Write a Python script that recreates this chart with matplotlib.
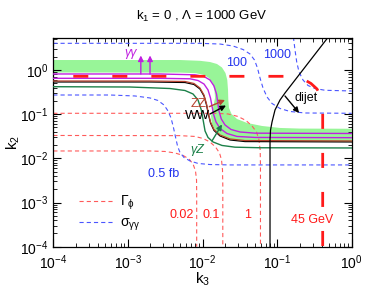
import numpy as np
import matplotlib
matplotlib.use("Agg")
import matplotlib.pyplot as plt

plt.rcParams["font.family"] = ["Liberation Sans", "DejaVu Sans"]
plt.rcParams["mathtext.fontset"] = "custom"
plt.rcParams["mathtext.rm"] = "Liberation Sans"
plt.rcParams["mathtext.it"] = "Liberation Sans:italic"
plt.rcParams["mathtext.default"] = "regular"
plt.rcParams["lines.scale_dashes"] = False

# ── curves as log10(k3), log10(k2) ───────────────────────────────────────────
band_out_x = [-4, -2.302, -2.034, -1.900, -1.806, -1.739, -1.692, -1.668, -1.658,
              -1.654, -1.645, -1.611, -1.538, -1.403, -1.202, -0.961, -0.693, 0]
band_out_y = [0.226, 0.226, 0.208, 0.181, 0.136, 0.057, -0.068, -0.226, -0.452,
              -0.679, -0.860, -0.995, -1.109, -1.199, -1.267, -1.312, -1.326, -1.330]
band_in_x = [-4, -2.302, -2.087, -1.980, -1.913, -1.866, -1.839, -1.832, -1.859,
             -1.886, -1.873, -1.832, -1.752, -1.631, -1.430, 0]
band_in_y = [-0.057, -0.059, -0.072, -0.113, -0.181, -0.294, -0.452, -0.633, -0.860,
             -1.041, -1.222, -1.357, -1.482, -1.572, -1.618, -1.629]

aa1_x = [-4, -2.570, -2.101, -1.980, -1.900, -1.846, -1.812, -1.795, -1.779,
         -1.748, -1.698, -1.618, -1.497, -1.296, 0]
aa1_y = [-0.090, -0.090, -0.109, -0.147, -0.226, -0.362, -0.543, -0.747, -0.928,
         -1.109, -1.244, -1.346, -1.403, -1.430, -1.437]
aa2_x = [-4, -2.570, -2.168, -2.060, -1.980, -1.926, -1.893, -1.873, -1.853,
         -1.819, -1.765, -1.672, -1.538, -1.296, 0]
aa2_y = [-0.188, -0.188, -0.199, -0.238, -0.317, -0.452, -0.633, -0.814, -0.995,
         -1.176, -1.324, -1.437, -1.504, -1.527, -1.532]

vv_x = [-4, -2.704, -2.235, -2.114, -2.034, -1.980, -1.946, -1.922, -1.893,
        -1.846, -1.765, -1.631, -1.430, 0]
zz_y = [-0.249, -0.249, -0.260, -0.305, -0.407, -0.566, -0.769, -0.973, -1.176,
        -1.346, -1.471, -1.561, -1.597, -1.606]
ww_y = [-0.271, -0.271, -0.283, -0.328, -0.430, -0.588, -0.792, -0.995, -1.199,
        -1.369, -1.493, -1.584, -1.620, -1.629]

az_x = [-4, -2.972, -2.436, -2.235, -2.127, -2.060, -2.016, -1.987, -1.966,
        -1.926, -1.859, -1.739, -1.564, -1.229, 0]
az_y = [-0.378, -0.385, -0.419, -0.464, -0.543, -0.679, -0.905, -1.176, -1.380,
        -1.527, -1.629, -1.708, -1.747, -1.760, -1.765]

mz_x = [-4, -0.894, -0.747, -0.639, -0.546, -0.465, -0.418, -0.394, -0.389, -0.389]
mz_y = [-0.143, -0.143, -0.165, -0.215, -0.305, -0.430, -0.588, -0.769, -0.950, -4]

dijet_x = [-1.095, -1.095, -1.088, -1.068, -1.028, -0.961, -0.894, -0.324]
dijet_y = [-4, -1.584, -1.357, -1.176, -0.905, -0.679, -0.520, 0.724]

# total width contours (GeV)
w002_x = [-4, -2.704, -2.503, -2.369, -2.261, -2.181, -2.127, -2.094, -2.080, -2.078, -2.078]
w002_y = [-1.833, -1.833, -1.844, -1.878, -1.934, -2.014, -2.127, -2.285, -2.489, -2.828, -4]
w01_x = [-4, -2.302, -2.101, -1.993, -1.900, -1.826, -1.772, -1.745, -1.732, -1.728, -1.728]
w01_y = [-1.482, -1.486, -1.504, -1.550, -1.629, -1.742, -1.878, -2.036, -2.262, -2.602, -4]
w1_x = [-4, -1.832, -1.658, -1.524, -1.417, -1.336, -1.276, -1.243, -1.227, -1.223, -1.223]
w1_y = [-0.980, -0.980, -0.995, -1.052, -1.143, -1.267, -1.403, -1.584, -1.810, -2.149, -4]

# diphoton cross-section contours (fb)
s05_x = [-4, -3.240, -2.905, -2.704, -2.597, -2.516, -2.462, -2.422, -2.391, -2.362,
         -2.335, -2.302, -2.248, -2.168, -2.060, -1.900, -1.631, 0]
s05_y = [-0.566, -0.566, -0.588, -0.633, -0.690, -0.792, -0.928, -1.086, -1.290, -1.516,
         -1.719, -1.867, -1.980, -2.059, -2.115, -2.140, -2.149, -2.149]
s100_x = [-4, -2.034, -1.766, -1.591, -1.457, -1.363, -1.303, -1.263, -1.229, -1.189,
          -1.135, -1.068, -0.961, -0.827, -0.626, 0]
s100_y = [0.604, 0.604, 0.588, 0.543, 0.464, 0.362, 0.226, 0.045, -0.181, -0.407,
          -0.611, -0.758, -0.871, -0.939, -0.973, -0.980]
s1000_x = [-0.782, -0.760, -0.737, -0.706, -0.653, -0.586, -0.492, -0.358, 0]
s1000_y = [0.75, 0.452, 0.181, -0.045, -0.226, -0.351, -0.419, -0.459, -0.475]

def L(a):
    return 10.0 ** np.asarray(a)

C_BAND = "#98f598"
C_AA = "#c020e0"
C_ZZ = "#b8432f"
C_AZ = "#1b8048"
C_RED = "#ff1a1a"
C_RED_T = "#ff5a5a"
C_BLUE_T = "#4a55ff"
C_BLUE = "#2233ee"

fig = plt.figure(figsize=(3.74, 2.99), dpi=100)
ax = fig.add_axes([0.1425, 0.1749, 0.7979, 0.698])
ax.set_xscale("log")
ax.set_yscale("log")

# band
ax.fill(np.concatenate([L(band_out_x), L(band_in_x)[::-1]]),
        np.concatenate([L(band_out_y), L(band_in_y)[::-1]]),
        color=C_BAND, lw=0, zorder=1)

thin = (0, (3.0, 2.2))
ax.plot(L(w002_x), L(w002_y), color=C_RED_T, lw=0.8, ls=thin, zorder=2, label=r"$\Gamma_\phi$")
ax.plot(L(w01_x), L(w01_y), color=C_RED_T, lw=0.8, ls=thin, zorder=2)
ax.plot(L(w1_x), L(w1_y), color=C_RED_T, lw=0.8, ls=thin, zorder=2)
ax.plot(L(s05_x), L(s05_y), color=C_BLUE_T, lw=0.8, ls=thin, zorder=2, label=r"$\sigma_{\gamma\gamma}$")
ax.plot(L(s100_x), L(s100_y), color=C_BLUE_T, lw=0.8, ls=thin, zorder=2)
ax.plot(L(s1000_x), L(s1000_y), color=C_BLUE_T, lw=0.8, ls=thin, zorder=2)

ax.plot(L(vv_x), L(ww_y), color="black", lw=0.9, zorder=3)
ax.plot(L(vv_x), L(zz_y), color=C_ZZ, lw=0.9, zorder=3)
ax.plot(L(az_x), L(az_y), color=C_AZ, lw=1.0, zorder=3)
ax.plot(L(aa1_x), L(aa1_y), color=C_AA, lw=1.0, zorder=3)
ax.plot(L(aa2_x), L(aa2_y), color=C_AA, lw=1.0, zorder=3)
ax.plot(L(dijet_x), L(dijet_y), color="black", lw=0.9, zorder=3)
ax.plot(L(mz_x), L(mz_y), color=C_RED, lw=2.0, ls=(13.7, (10.8, 17.3)), zorder=4)

def arrow(x0, y0, x1, y1, c):
    ax.annotate("", xy=(x1, y1), xytext=(x0, y0),
                arrowprops=dict(arrowstyle="-|>", color=c, lw=1.0,
                                mutation_scale=8, shrinkA=0, shrinkB=0), zorder=5)

arrow(0.00149, 0.81, 0.00149, 2.13, C_AA)
arrow(0.00198, 0.81, 0.00198, 2.13, C_AA)
arrow(0.01233, 0.148, 0.02004, 0.2095, C_ZZ)
arrow(0.01259, 0.101, 0.02065, 0.157, "black")
arrow(0.0134, 0.0248, 0.01824, 0.0585, C_AZ)
arrow(0.1276, 0.258, 0.197, 0.1064, "black")

fs = 9
ax.text(0.00107, 2.42, "γγ", color=C_AA, fontsize=fs, style="italic", ha="center", va="center")
ax.text(0.00898, 0.168, "ZZ", color=C_ZZ, fontsize=9.5, ha="center", va="center")
ax.text(0.00857, 0.089, "WW", color="black", fontsize=9.5, ha="center", va="center")
ax.text(0.00844, 0.0155, "γZ", color=C_AZ, fontsize=fs, style="italic", ha="center", va="center")
ax.text(0.0286, 1.44, "100", color=C_BLUE, fontsize=fs, ha="center", va="center")
ax.text(0.0998, 2.13, "1000", color=C_BLUE, fontsize=fs, ha="center", va="center")
ax.text(0.00305, 0.00444, "0.5 fb", color=C_BLUE, fontsize=fs, ha="center", va="center")
ax.text(0.173, 0.233, "dijet", color="black", fontsize=fs, ha="left", va="center")
ax.text(0.00526, 5.24e-4, "0.02", color=C_RED, fontsize=fs, ha="center", va="center")
ax.text(0.01327, 5.24e-4, "0.1", color=C_RED, fontsize=fs, ha="center", va="center")
ax.text(0.0399, 5.24e-4, "1", color=C_RED, fontsize=fs, ha="center", va="center")
ax.text(0.296, 4.04e-4, "45 GeV", color=C_RED, fontsize=fs, ha="center", va="center")

ax.legend(loc="lower left", bbox_to_anchor=(0.043, 0.005), frameon=False, fontsize=10,
          handlelength=2.6, handletextpad=0.4, labelspacing=0.25)

ax.set_xlim(1e-4, 1)
ax.set_ylim(1e-4, 5.3)
ax.tick_params(which="both", direction="in", top=True, right=True, labelsize=10)
ax.tick_params(which="major", length=6, width=0.8)
ax.tick_params(which="minor", length=3, width=0.6)
ax.tick_params(axis="x", which="major", pad=5)
for s in ax.spines.values():
    s.set_linewidth(0.9)
ax.set_xlabel("k$_3$", fontsize=11, labelpad=-1)
ax.set_ylabel("k$_2$", fontsize=11, labelpad=-1)
fig.text(0.539, 0.944, "k$_1$ = 0 , Λ = 1000 GeV", fontsize=9.5, ha="center", va="center")

fig.savefig("out.png", dpi=100)
